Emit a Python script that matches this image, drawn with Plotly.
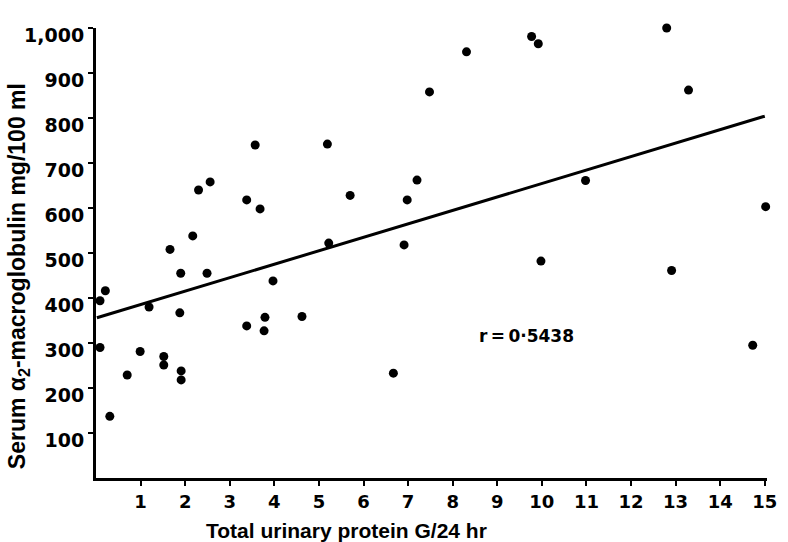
import plotly.graph_objects as go

# Data
protein = [2.56, 2.30, 3.38, 3.68, 2.17, 1.66, 1.90, 2.49, 0.21, 3.97, 0.09, 1.19, 1.88,
           3.79, 4.62, 3.38, 3.77, 0.09, 0.99, 1.52, 1.52, 0.70, 1.91, 1.91, 0.31, 3.57,
           12.80, 9.77, 9.92, 8.31, 13.29, 7.48, 5.19, 7.20, 10.98, 5.70, 6.98, 15.02,
           5.22, 6.91, 9.98, 12.91, 14.73, 6.67]
macroglobulin = [658, 640, 618, 598, 538, 508, 455, 455, 416, 438, 394, 380, 367,
                 357, 359, 338, 327, 290, 281, 270, 251, 229, 238, 218, 137, 740,
                 1000, 981, 965, 947, 862, 858, 742, 662, 661, 628, 618, 603,
                 522, 518, 482, 461, 295, 233]

fit_x = [0.02, 15.0]
fit_y = [356, 804]

x_ticks = list(range(1, 16))
x_tick_labels = [str(v) for v in x_ticks]
y_ticks = [100, 200, 300, 400, 500, 600, 700, 800, 900, 1000]
y_tick_labels = ["100", "200", "300", "400", "500", "600", "700", "800", "900", "1,000"]

r_label = "r\u2009=\u20090\u00b75438"

fig = go.Figure()
fig.add_trace(go.Scatter(x=fit_x, y=fit_y, mode="lines",
                         line=dict(color="black", width=3), cliponaxis=False,
                         showlegend=False, hoverinfo="skip"))
fig.add_trace(go.Scatter(x=protein, y=macroglobulin, mode="markers",
                         marker=dict(color="black", size=9), cliponaxis=False,
                         showlegend=False))

tick_font = "DejaVu Sans"
title_font = "Liberation Sans, Arial, sans-serif"

fig.update_layout(
    width=788, height=542,
    margin=dict(l=96, r=11, t=28, b=64),
    paper_bgcolor="white", plot_bgcolor="white",
    xaxis=dict(range=[0, 15.05], showgrid=False, zeroline=False,
               showline=True, linecolor="black", linewidth=3,
               tickmode="array", tickvals=x_ticks, ticktext=x_tick_labels,
               ticks="outside", ticklen=5, tickwidth=2, tickcolor="black",
               tickfont=dict(family=tick_font, size=18, color="black", weight="bold")),
    yaxis=dict(range=[0, 1000], showgrid=False, zeroline=False,
               showline=True, linecolor="black", linewidth=3,
               tickmode="array", tickvals=y_ticks, ticktext=y_tick_labels,
               ticks="outside", ticklen=5, tickwidth=2, tickcolor="black",
               ticklabelshift=7,
               tickfont=dict(family=tick_font, size=19, color="black", weight="bold")),
    annotations=[
        dict(text="<b>Total urinary protein G/24 hr</b>", xref="paper", yref="paper",
             x=(350 - 96) / 681, y=(478 - 530) / 450, xanchor="center", yanchor="middle",
             showarrow=False, font=dict(family=title_font, size=21, color="black")),
        dict(text="<b>Serum α<sub>2</sub>-macroglobulin mg/100 ml</b>", xref="paper", yref="paper",
             x=(17 - 96) / 681, y=(478 - 276) / 450, xanchor="center", yanchor="middle",
             textangle=-90, showarrow=False,
             font=dict(family=title_font, size=23, color="black")),
        dict(text="<b>" + r_label + "</b>", x=9.65, y=316, xref="x", yref="y",
             showarrow=False, xanchor="center", yanchor="middle",
             font=dict(family=tick_font, size=17, color="black")),
    ],
)

fig.write_html("out.html", config={"displayModeBar": False},
               post_script="document.body.style.margin='0';")
